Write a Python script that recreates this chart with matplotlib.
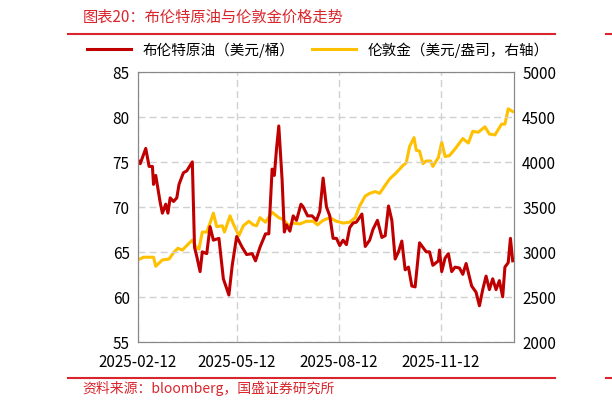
import numpy as np
import pandas as pd
import matplotlib.pyplot as plt
import matplotlib.dates as mdates

plt.rcParams['font.family'] = ['Noto Sans CJK SC', 'DejaVu Sans']

START = pd.Timestamp("2025-02-12")

# days since 2025-02-12 and Brent price (USD/bbl)
oil_days = [0, 2, 7, 10, 13, 14, 16, 20, 22, 25, 27, 29, 32, 35, 37, 41, 44, 49, 51, 53,
            56, 58, 62, 65, 68, 73, 77, 82, 85, 89, 94, 98, 103, 106, 110, 115, 118, 121, 123, 125,
            127, 130, 132, 134, 137, 140, 143, 147, 149, 153, 157, 161, 164, 167, 170, 173, 176, 179, 182, 185,
            188, 191, 194, 197, 202, 205, 209, 212, 216, 220, 223, 226, 229, 232, 235, 238, 241, 244, 247, 250,
            254, 257, 260, 263, 266, 271, 272, 274, 277, 280, 283, 286, 290, 293, 296, 301, 305, 308, 311, 314,
            317, 320, 323, 326, 329, 331, 334, 336, 338]
oil = [75.2, 74.8, 76.5, 74.5, 74.5, 72.5, 73.5, 70.5, 69.3, 70.3, 69.3, 71.0, 70.6, 71.0, 72.5, 73.8, 74.0, 75.0, 65.5, 64.5,
       62.8, 65.0, 64.8, 67.8, 66.3, 66.5, 62.0, 60.2, 63.5, 66.7, 65.5, 64.7, 64.8, 64.0, 65.5, 67.0, 67.0, 74.2, 73.5, 76.5,
       79.0, 73.0, 67.2, 68.0, 67.3, 69.0, 68.5, 70.3, 70.0, 69.0, 69.0, 68.5, 69.5, 73.2, 70.0, 69.0, 66.5, 66.5, 65.7, 66.3,
       65.8, 67.7, 68.2, 68.3, 69.2, 65.6, 66.3, 67.5, 68.5, 66.6, 66.8, 70.1, 68.5, 64.2, 65.0, 66.2, 63.0, 63.3, 61.2, 61.1,
       66.0, 65.5, 65.0, 65.0, 63.5, 64.0, 65.2, 62.8, 64.3, 64.8, 62.8, 63.3, 63.2, 62.5, 63.7, 61.2, 60.5, 59.0, 60.8, 62.3,
       60.8, 62.0, 60.8, 61.8, 60.0, 63.3, 63.8, 66.5, 64.0]

# days since 2025-02-12 and London gold (USD/oz)
gold_days = [0, 5, 10, 14, 16, 22, 28, 32, 36, 40, 44, 49, 52, 55, 58, 62, 65, 68, 71, 76,
             78, 83, 86, 91, 95, 100, 104, 107, 110, 115, 121, 127, 131, 136, 140, 146, 152, 158, 162, 167,
             173, 179, 185, 191, 196, 200, 205, 209, 214, 218, 223, 227, 233, 239, 242, 245, 249, 251, 254, 257,
             260, 264, 266, 271, 274, 277, 281, 287, 293, 298, 302, 307, 313, 317, 322, 328, 331, 334, 338]
gold = [2910, 2940, 2940, 2940, 2840, 2910, 2920, 2990, 3040, 3020, 3070, 3130, 3060, 3030, 3220, 3220, 3320, 3430, 3280, 3290,
        3220, 3400, 3310, 3180, 3290, 3340, 3300, 3290, 3380, 3330, 3440, 3380, 3360, 3290, 3320, 3310, 3340, 3340, 3300, 3350,
        3380, 3340, 3320, 3330, 3380, 3510, 3620, 3650, 3670, 3650, 3740, 3810, 3880, 3960, 3990, 4170, 4270, 4130, 4120, 3980,
        4010, 4010, 3950, 4050, 4220, 4060, 4070, 4160, 4260, 4210, 4340, 4330, 4390, 4310, 4300, 4420, 4420, 4590, 4560]

xticks = ["2025-02-12", "2025-05-12", "2025-08-12", "2025-11-12"]

RED = "#c00000"
GOLD = "#ffc000"
RULE = "#d9262c"

oil_dates = START + pd.to_timedelta(oil_days, unit="D")
gold_dates = START + pd.to_timedelta(gold_days, unit="D")

fig = plt.figure(figsize=(6.12, 4.10), dpi=100)
ax = fig.add_axes([0.2255, 0.164, 0.614, 0.658])
ax2 = ax.twinx()

ax2.plot(gold_dates, gold, color=GOLD, lw=2.2, label="伦敦金（美元/盎司，右轴）")
ax.plot(oil_dates, oil, color=RED, lw=2.2, label="布伦特原油（美元/桶）")
ax.set_zorder(ax2.get_zorder() + 1)
ax.patch.set_visible(False)

ax.set_ylim(55, 85)
ax.set_yticks(np.arange(55, 86, 5))
ax2.set_ylim(2000, 5000)
ax2.set_yticks(np.arange(2000, 5001, 500))
ax.set_xlim(START, START + pd.Timedelta(days=339))
ax.set_xticks(pd.to_datetime(xticks))
ax.xaxis.set_major_formatter(mdates.DateFormatter("%Y-%m-%d"))

ax.grid(True, color="#d0d0d0", ls=(0, (5, 3)), lw=1)
for a in (ax, ax2):
    a.tick_params(length=0, labelsize=11, pad=6)
    for s in a.spines.values():
        s.set_color("#888888")
        s.set_linewidth(0.8)
ax.tick_params(axis="x", pad=8)

h1, l1 = ax.get_legend_handles_labels()
h2, l2 = ax2.get_legend_handles_labels()
fig.legend(h1 + h2, l1 + l2, loc="center", bbox_to_anchor=(0.52, 0.878), ncol=2,
           frameon=False, fontsize=10.5, handlelength=3, columnspacing=1.2)

fig.text(0.135, 0.958, "图表20：布伦特原油与伦敦金价格走势", color=RULE, fontsize=11,
         style="italic", va="center")
fig.text(0.135, 0.053, "资料来源：bloomberg，国盛证券研究所", color=RULE, fontsize=10,
         style="italic", va="center")
fig.add_artist(plt.Line2D([0.111, 0.907], [0.915, 0.915], color=RULE, lw=1.5))
fig.add_artist(plt.Line2D([0.111, 0.907], [0.076, 0.076], color=RULE, lw=1.5))
fig.add_artist(plt.Line2D([0.99, 1.0], [0.915, 0.915], color=RULE, lw=1.5))
fig.add_artist(plt.Line2D([0.99, 1.0], [0.076, 0.076], color=RULE, lw=1.5))

fig.savefig("out.png", dpi=100)
